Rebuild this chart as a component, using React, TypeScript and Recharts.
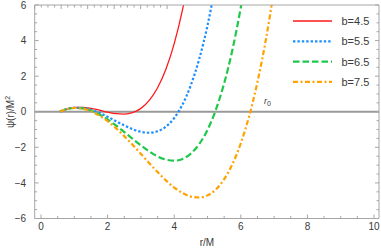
import React from "react";
import {
  LineChart,
  Line,
  XAxis,
  YAxis,
  ReferenceLine,
  ReferenceDot,
} from "recharts";

// r/M sample points shared by all curves
const r = [
  0.57, 0.75, 1, 1.25, 1.5, 1.75, 2, 2.25, 2.5, 2.75, 3, 3.25, 3.5, 3.75, 4,
  4.25, 4.5, 4.75, 5, 5.25, 5.5, 5.75, 6, 6.25, 6.5, 6.75, 7,
];

// psi(r)/M^2 for each impact parameter (null = off the chart)
const b45 = [
  0.01, 0.14, 0.24, 0.25, 0.19, 0.09, -0.02, -0.11, -0.13, -0.05, 0.19, 0.64,
  1.35, 2.39, 3.83, 5.74, 8.19, null, null, null, null, null, null, null, null,
  null, null,
];
const b55 = [
  0.01, 0.14, 0.22, 0.21, 0.11, -0.06, -0.28, -0.53, -0.77, -0.98, -1.13,
  -1.18, -1.1, -0.84, -0.35, 0.41, 1.5, 2.96, 4.85, 7.24, null, null, null,
  null, null, null, null,
];
const b65 = [
  0.01, 0.14, 0.21, 0.19, 0.06, -0.15, -0.43, -0.77, -1.14, -1.52, -1.89,
  -2.23, -2.51, -2.69, -2.75, -2.65, -2.35, -1.82, -1.02, 0.11, 1.6, 3.5, 5.87,
  8.74, null, null, null,
];
const b75 = [
  0.01, 0.13, 0.21, 0.17, 0.03, -0.21, -0.53, -0.92, -1.37, -1.86, -2.37,
  -2.89, -3.39, -3.86, -4.26, -4.57, -4.77, -4.82, -4.7, -4.37, -3.79, -2.94,
  -1.77, -0.25, 1.67, 4.03, 6.87,
];

const seriesNames = ["b=4.5", "b=5.5", "b=6.5", "b=7.5"];

const xTicks = [
  0, 0.5, 1, 1.5, 2, 2.5, 3, 3.5, 4, 4.5, 5, 5.5, 6, 6.5, 7, 7.5, 8, 8.5, 9,
  9.5, 10,
];
const xMajor = [0, 2, 4, 6, 8, 10];
const yTicks = [
  -6, -5.5, -5, -4.5, -4, -3.5, -3, -2.5, -2, -1.5, -1, -0.5, 0, 0.5, 1, 1.5, 2,
  2.5, 3, 3.5, 4, 4.5, 5, 5.5, 6,
];
const yMajor = [-6, -4, -2, 0, 2, 4, 6];

// where the r0 annotation sits
const r0Label = { r: 6.7, psi: 0.45 };

const data = r.map((v, i) => ({
  r: v,
  b45: b45[i],
  b55: b55[i],
  b65: b65[i],
  b75: b75[i],
}));

const FONT = "'Liberation Sans', Arial, sans-serif";
const FRAME = "#a6a6a6";
const TXT = "#3a3a3a";

const styles = [
  { key: "b45", color: "#ff1a1a", width: 1.3, dash: undefined },
  { key: "b55", color: "#1e8fff", width: 2.2, dash: "2.4 2" },
  { key: "b65", color: "#1ec84a", width: 2.2, dash: "6.5 3" },
  { key: "b75", color: "#ffa200", width: 2.2, dash: "5 2.5 2 2.5" },
];

const fmt = (v: number) => (v < 0 ? `\u2212${-v}` : `${v}`);

function BottomTick({ x, y, payload }: any) {
  const major = xMajor.includes(payload.value);
  return (
    <g>
      <line x1={x} x2={x} y1={y} y2={y - (major ? 4 : 2.5)} stroke={FRAME} />
      {major && (
        <text x={x} y={y + 11.5} textAnchor="middle" fontSize={10} fill={TXT} fontFamily={FONT}>
          {fmt(payload.value)}
        </text>
      )}
    </g>
  );
}

function TopTick({ x, y, payload }: any) {
  const major = xMajor.includes(payload.value);
  return <line x1={x} x2={x} y1={y} y2={y + (major ? 4 : 2.5)} stroke={FRAME} />;
}

function LeftTick({ x, y, payload }: any) {
  const major = yMajor.includes(payload.value);
  return (
    <g>
      <line x1={x} x2={x + (major ? 4 : 2.5)} y1={y} y2={y} stroke={FRAME} />
      {major && (
        <text x={x - 8.5} y={y + 3.6} textAnchor="end" fontSize={10} fill={TXT} fontFamily={FONT}>
          {fmt(payload.value)}
        </text>
      )}
    </g>
  );
}

function RightTick({ x, y, payload }: any) {
  const major = yMajor.includes(payload.value);
  return <line x1={x} x2={x - (major ? 4 : 2.5)} y1={y} y2={y} stroke={FRAME} />;
}

function Legend() {
  return (
    <svg
      width={381}
      height={248}
      style={{ position: "absolute", left: 0, top: 0, pointerEvents: "none" }}
    >
      {styles.map((s, i) => {
        const cy = 21 + i * 20.3;
        return (
          <g key={s.key}>
            <line
              x1={293}
              x2={332}
              y1={cy}
              y2={cy}
              stroke={s.color}
              strokeWidth={s.width}
              strokeDasharray={s.dash}
            />
            <text x={341.5} y={cy + 4} fontSize={11} fill={TXT} fontFamily={FONT}>
              {seriesNames[i]}
            </text>
          </g>
        );
      })}
    </svg>
  );
}

export default function App() {
  return (
    <div style={{ position: "absolute", left: 0, top: 0, width: 381, height: 248, background: "#fff" }}>
      <LineChart width={381} height={248} data={data} margin={{ top: 4, right: 1, bottom: 0, left: 0 }}>
        <XAxis
          dataKey="r"
          type="number"
          domain={[-0.19, 10.15]}
          allowDataOverflow
          ticks={xTicks}
          interval={0}
          height={29.5}
          tickSize={0}
          tickMargin={0}
          tickLine={false}
          stroke={FRAME}
          tick={<BottomTick />}
          label={{
            content: () => (
              <text x={207} y={246} textAnchor="middle" fontSize={10} fill={TXT} fontFamily={FONT}>
                r/M
              </text>
            ),
          }}
        />
        <XAxis
          xAxisId="top"
          orientation="top"
          type="number"
          domain={[-0.19, 10.15]}
          allowDataOverflow
          ticks={xTicks}
          interval={0}
          height={1}
          tickSize={0}
          tickMargin={0}
          tickLine={false}
          stroke={FRAME}
          tick={<TopTick />}
        />
        <YAxis
          type="number"
          domain={[-6, 6]}
          allowDataOverflow
          ticks={yTicks}
          interval={0}
          width={34.7}
          tickSize={0}
          tickMargin={0}
          tickLine={false}
          stroke={FRAME}
          tick={<LeftTick />}
          label={{
            content: () => (
              <text
                x={0}
                y={0}
                transform="translate(13.5 112) rotate(-90)"
                textAnchor="middle"
                fontSize={10}
                fill={TXT}
                fontFamily={FONT}
              >
                ψ(r)/M
                <tspan fontSize={7} dy={-4}>2</tspan>
              </text>
            ),
          }}
        />
        <YAxis
          yAxisId="right"
          orientation="right"
          type="number"
          domain={[-6, 6]}
          allowDataOverflow
          ticks={yTicks}
          interval={0}
          width={1}
          tickSize={0}
          tickMargin={0}
          tickLine={false}
          stroke={FRAME}
          tick={<RightTick />}
        />
        <ReferenceLine y={0} stroke="#999999" strokeWidth={2} />
        {styles.map((s) => (
          <Line
            key={s.key}
            type="monotone"
            dataKey={s.key}
            stroke={s.color}
            strokeWidth={s.width}
            strokeDasharray={s.dash}
            dot={false}
            activeDot={false}
            connectNulls={false}
            isAnimationActive={false}
          />
        ))}
        <ReferenceDot
          x={r0Label.r}
          y={r0Label.psi}
          r={0}
          shape={(p: any) => (
            <text x={p.cx} y={p.cy} fontSize={9} fill={TXT} fontFamily={FONT}>
              <tspan fontStyle="italic">r</tspan>
              <tspan fontSize={7} dy={2}>0</tspan>
            </text>
          )}
        />
      </LineChart>
      <Legend />
    </div>
  );
}
